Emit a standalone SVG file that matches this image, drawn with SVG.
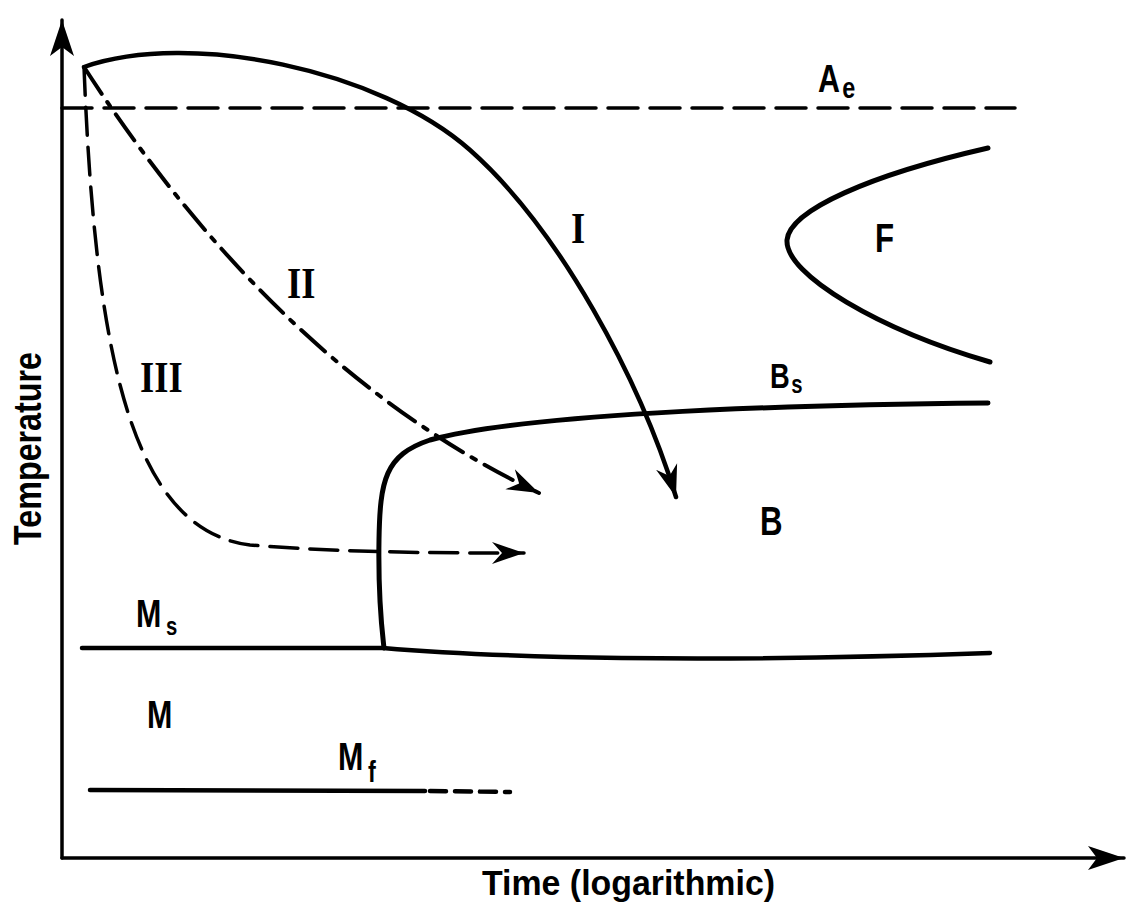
<svg xmlns="http://www.w3.org/2000/svg" width="1128" height="909" viewBox="0 0 1128 909">
<defs>
<style>
.ln{fill:none;stroke:#000;stroke-linecap:round;stroke-linejoin:round}
.t{font-family:"Liberation Sans",Arial,sans-serif;font-weight:bold;fill:#000}
.r{font-family:"Liberation Serif","Times New Roman",serif;font-weight:bold;fill:#000}
</style>
<marker id="ah" markerUnits="userSpaceOnUse" viewBox="-32 -12 34 24" refX="0" refY="0" markerWidth="34" markerHeight="24" orient="auto">
<path d="M0,0 L-32,-11 L-22,0 L-32,11 Z" fill="#000"/>
</marker>
<marker id="ax" markerUnits="userSpaceOnUse" viewBox="-36 -13 38 26" refX="0" refY="0" markerWidth="38" markerHeight="26" orient="auto">
<path d="M0,0 L-36,-12 L-27,0 L-36,12 Z" fill="#000"/>
</marker>
</defs>
<rect width="1128" height="909" fill="#fff"/>
<g id="axes">
<line class="ln" x1="62" y1="858" x2="62" y2="20" stroke-width="3.5" marker-end="url(#ax)"/>
<line class="ln" x1="62" y1="858" x2="1124" y2="858" stroke-width="3.5" marker-end="url(#ax)"/>
</g>
<g id="connectors">
<path id="Ae-line" class="ln" d="M62,108 L1015,108" stroke-width="3.5" stroke-dasharray="30 12" stroke-linecap="butt"/>
<path id="curve-I" class="ln" d="M84,67 C190,30 380,70 470,150 C560,230 640,380 676,497" stroke-width="4.5" marker-end="url(#ah)"/>
<path id="curve-II" class="ln" d="M84,67 Q280,370 539,493" stroke-width="4" stroke-dasharray="32 10 5 10" stroke-linecap="butt" marker-end="url(#ah)"/>
<path id="curve-III" class="ln" d="M84,67 C95,350 130,530 250,545 C350,553 450,553 524,553" stroke-width="3.5" stroke-dasharray="28 12" stroke-linecap="butt" marker-end="url(#ah)"/>
<path id="Bs-curve" class="ln" d="M988,403 C760,405 520,415 430,440 C385,455 380,480 379,540 C378,600 382,630 384,648" stroke-width="5"/>
<path id="Ms-line" class="ln" d="M82,648 L383,648 C500,658 700,663 990,653" stroke-width="4.5"/>
<path id="Mf-line" class="ln" d="M90,790 L425,791" stroke-width="4.5"/>
<path id="Mf-dash" class="ln" d="M430,791 L510,792" stroke-width="4.5" stroke-dasharray="16 9" stroke-linecap="butt"/>
<path id="F-curve" class="ln" d="M988,148 C870,175 790,210 787,240 C785,275 880,330 990,362" stroke-width="5"/>
</g>
<g id="labels">
<text class="t" transform="translate(818,92) scale(0.78,1)" font-size="39">A<tspan font-size="30" dx="3" dy="6">e</tspan></text>
<text class="t" transform="translate(770,388) scale(0.78,1)" font-size="35">B<tspan font-size="26" dx="2" dy="5">s</tspan></text>
<text class="t" transform="translate(760,535) scale(0.78,1)" font-size="40">B</text>
<text class="t" transform="translate(875,252) scale(0.78,1)" font-size="40">F</text>
<text class="t" transform="translate(136,627) scale(0.78,1)" font-size="39">M<tspan font-size="26" dx="6" dy="8">s</tspan></text>
<text class="t" transform="translate(147,728) scale(0.78,1)" font-size="39">M</text>
<text class="t" transform="translate(338,770) scale(0.78,1)" font-size="39">M<tspan font-size="30" dx="6" dy="12">f</tspan></text>
<text class="r" transform="translate(571,243) scale(0.83,1)" font-size="44">I</text>
<text class="r" transform="translate(287,298) scale(0.83,1)" font-size="44">II</text>
<text class="r" transform="translate(140,392) scale(0.83,1)" font-size="44">III</text>
<text class="t" x="482" y="895" font-size="35" textLength="293" lengthAdjust="spacingAndGlyphs">Time (logarithmic)</text>
<text class="t" transform="translate(41,545) rotate(-90)" font-size="38" textLength="193" lengthAdjust="spacingAndGlyphs">Temperature</text>
</g>
</svg>
